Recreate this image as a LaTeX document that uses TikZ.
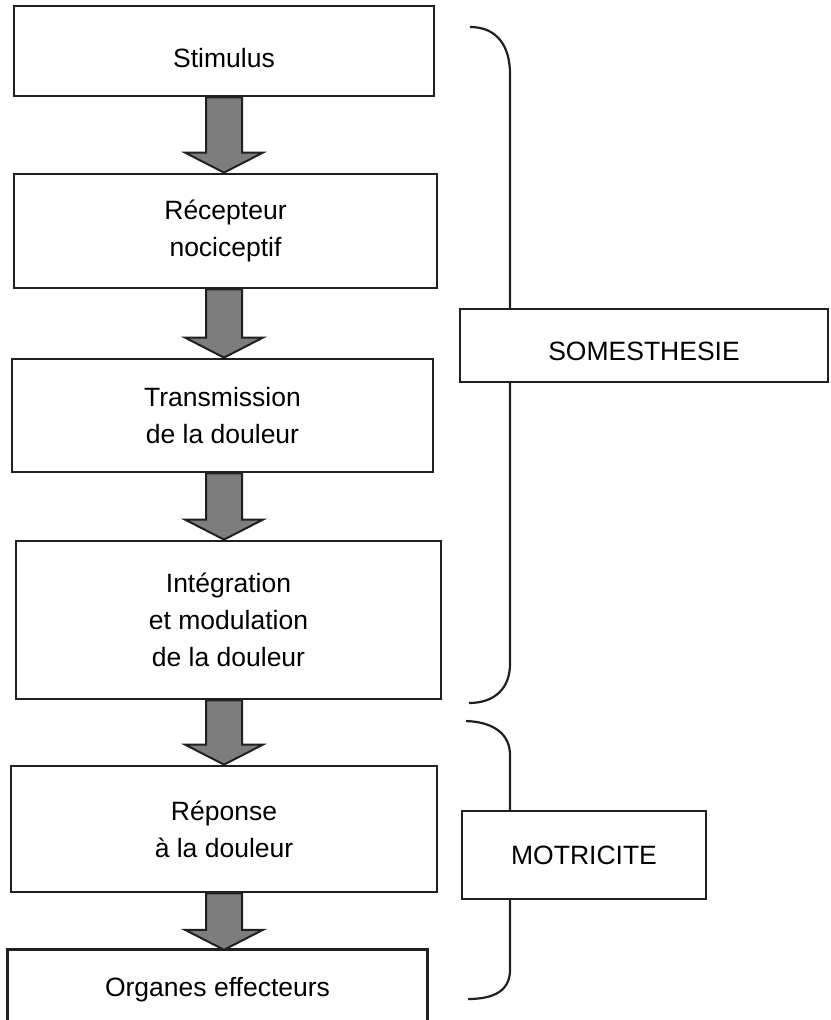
\documentclass[tikz,border=0pt]{standalone}
\usepackage{fontspec}
\setmainfont{Liberation Sans}
\usetikzlibrary{calc}

\definecolor{encre}{RGB}{35,31,32}
\definecolor{grisfleche}{RGB}{125,125,125}
\def\flechex{224pt}

\tikzset{
  etape/.style={draw=encre, line width=2.8pt, fill=white, align=center, inner sep=0pt},
  categorie/.style={draw=encre, line width=2.2pt, fill=white, inner sep=0pt},
  fleche/.style={draw=encre, line width=2pt, fill=grisfleche},
  accolade/.style={draw=encre, line width=2.2pt}
}

% grosse fleche verticale entre deux etapes
\newcommand{\fleche}[2]{%
  \draw[fleche] let \p1=(#1.south), \p2=(#2.north) in
    (\flechex-18pt,\y1) -- (\flechex+18pt,\y1) -- (\flechex+18pt,\y2+20pt)
    -- (\flechex+39pt,\y2+20pt) -- (\flechex,\y2) -- (\flechex-39pt,\y2+20pt)
    -- (\flechex-18pt,\y2+20pt) -- cycle;}

\begin{document}
\begin{tikzpicture}[x=1pt, y=-1pt, font=\fontsize{26.5}{37}\selectfont]
  \useasboundingbox (0,0) rectangle (830,1020);

  \node[etape, minimum width=420pt, minimum height=90pt, text height=33pt, text depth=0pt] (stimulus) at (224,51) {Stimulus};
  \node[etape, minimum width=423pt, minimum height=114pt] (recepteur) at (225.5,231) {Récepteur\\nociceptif};
  \node[etape, minimum width=421pt, minimum height=113pt] (transmission) at (222.5,415.5) {Transmission\\de la douleur};
  \node[etape, minimum width=425pt, minimum height=158pt] (integration) at (228.5,620) {Intégration\\et modulation\\de la douleur};
  \node[etape, minimum width=426pt, minimum height=126pt] (reponse) at (224,829) {Réponse\\à la douleur};
  \node[align=center, inner sep=0pt, minimum width=419pt, minimum height=80pt] (organes) at (217.5,990) {Organes effecteurs};
  \draw[encre, line width=2.8pt] (organes.south west) -- (organes.north west)
    -- (organes.north east) -- (organes.south east);

  \fleche{stimulus}{recepteur}
  \fleche{recepteur}{transmission}
  \fleche{transmission}{integration}
  \fleche{integration}{reponse}
  \fleche{reponse}{organes}

  \draw[accolade] (470,27) .. controls (497,27) and (510,46) .. (510,74)
    -- (510,664) .. controls (510,688) and (495,703) .. (469,703);
  \draw[accolade] (466,721) .. controls (495,722) and (510,735) .. (510,755)
    -- (510,970) .. controls (510,990) and (495,999) .. (468,999);

  \node[categorie, minimum width=368pt, minimum height=73pt, text height=29pt, text depth=0pt] (somesthesie) at (644,345.5) {SOMESTHESIE};
  \node[categorie, minimum width=244pt, minimum height=88pt] (motricite) at (584,855) {MOTRICITE};
\end{tikzpicture}
\end{document}
